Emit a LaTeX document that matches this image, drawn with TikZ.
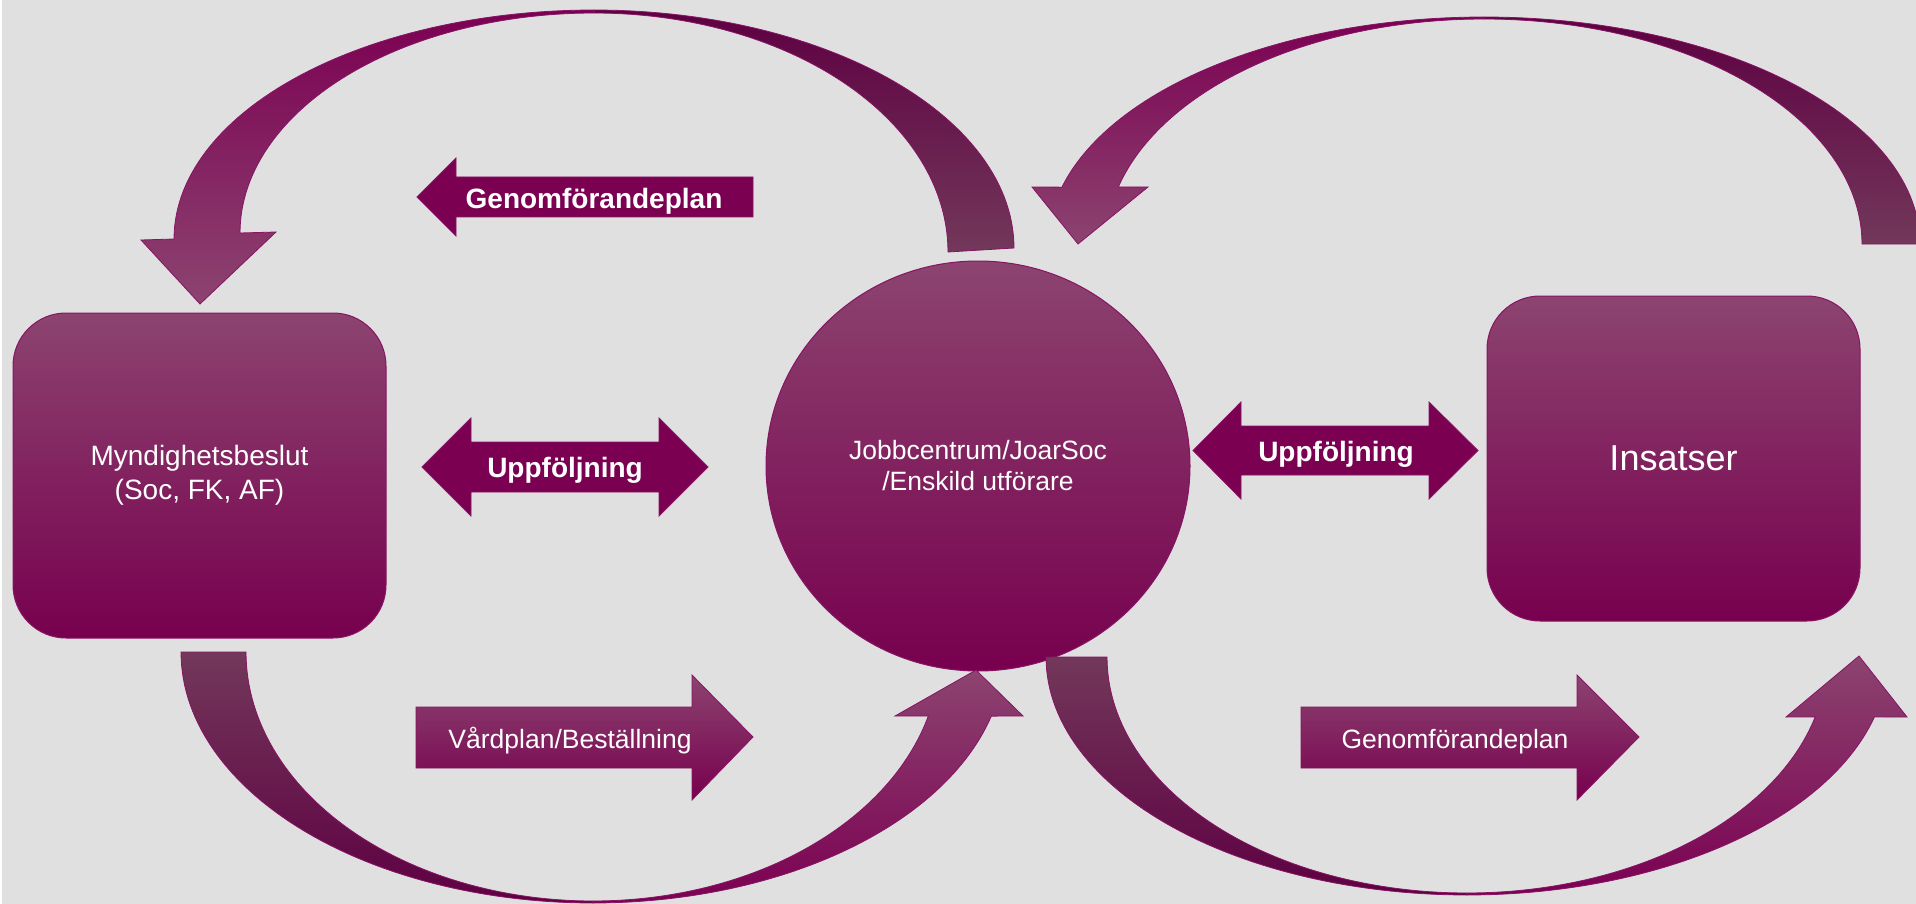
\documentclass[tikz,border=0pt]{standalone}
\usepackage{fontspec}
\setmainfont{Liberation Sans}
\usetikzlibrary{shapes.geometric}
\definecolor{bg}{RGB}{224,224,224}
\definecolor{mag}{RGB}{123,0,82}
\definecolor{magmid}{RGB}{129,10,88}
\definecolor{magbot}{RGB}{119,0,78}
\definecolor{maglight}{RGB}{140,68,112}
\definecolor{darkp}{RGB}{94,0,66}
\definecolor{tailgray}{RGB}{114,56,90}
\definecolor{edge}{RGB}{135,20,100}
\tikzset{
  shapebox/.style={draw=edge, line width=1pt, top color=maglight, middle color=magmid, bottom color=magbot, text=white, align=center, inner sep=0pt},
  roundbox/.style={shapebox, rectangle, rounded corners=53pt, minimum width=373pt, minimum height=325pt},
  tailup/.style={draw=edge, line width=0.8pt, top color=tailgray, bottom color=darkp},
  taildown/.style={draw=edge, line width=0.8pt, top color=darkp, bottom color=tailgray},
  headup/.style={draw=edge, line width=0.8pt, top color=maglight, middle color=mag!80!maglight, bottom color=mag},
  headdown/.style={draw=edge, line width=0.8pt, top color=mag, middle color=mag!80!maglight, bottom color=maglight},
  flatarrow/.style={draw=edge, line width=0.8pt, fill=mag},
  gradarrow/.style={draw=edge, line width=0.8pt, top color=maglight, middle color=mag, bottom color=magbot},
  boldlabel/.style={text=white, anchor=base, inner sep=0pt, font=\fontsize{28}{32}\selectfont\bfseries},
  plainlabel/.style={text=white, anchor=base, inner sep=0pt, font=\fontsize{26.5}{31}\selectfont},
}
\begin{document}
\begin{tikzpicture}[x=1pt,y=-1pt]
\useasboundingbox (0,0) rectangle (1916,904);
\clip (0,0) rectangle (1916,904);
\fill[bg] (0,0) rectangle (1916,904);
\fill[white] (0,0) rectangle (2,904);

% main shapes
\node[roundbox, font=\fontsize{28}{34}\selectfont] (myn) at (199.5,475.5) {Myndighetsbeslut\\(Soc, FK, AF)};
\node[shapebox, ellipse, minimum width=424pt, minimum height=410pt, font=\fontsize{26.5}{31}\selectfont] (job) at (978,466) {Jobbcentrum/JoarSoc\\/Enskild utförare};
\node[roundbox, font=\fontsize{36}{40}\selectfont] (ins) at (1673.5,458.5) {Insatser};

% top-left curved arrow (A)
\path[taildown] plot[domain=-90:0, samples=60] ({594+420*cos(\x)},{248+238*sin(\x)})
  -- plot[domain=0:-90, samples=60] ({594+354*cos(\x)},{252+239*sin(\x)}) -- cycle;
\path[headdown] plot[domain=180:270, samples=60] ({594+420*cos(\x)},{239+229*sin(\x)})
  -- plot[domain=270:180, samples=60] ({594+354*cos(\x)},{233+220*sin(\x)})
  -- (276,232) -- (200,304) -- (141,240) -- cycle;

% top-right curved arrow (B)
\path[taildown] plot[domain=-90:0, samples=60] ({1484+436*cos(\x)},{244+227*sin(\x)})
  -- plot[domain=0:-90, samples=60] ({1484+378*cos(\x)},{244+225*sin(\x)}) -- cycle;
\path[headdown] plot[domain=194.5:270, samples=60] ({1484+436*cos(\x)},{244+227*sin(\x)})
  -- plot[domain=270:194.7, samples=60] ({1484+378*cos(\x)},{244+225*sin(\x)})
  -- (1148,187) -- (1078,244) -- (1032,187) -- cycle;

% bottom-left curved arrow (C)
\path[tailup] plot[domain=180:90, samples=60] ({593+412*cos(\x)},{652+251*sin(\x)})
  -- plot[domain=90:180, samples=60] ({593+347*cos(\x)},{652+249*sin(\x)}) -- cycle;
\path[headup] plot[domain=90:14.8, samples=60] ({593+412*cos(\x)},{652+251*sin(\x)})
  -- (1023,716) -- (976,670) -- (895,716)
  -- plot[domain=14.9:90, samples=60] ({593+347*cos(\x)},{652+249*sin(\x)}) -- cycle;

% bottom-right curved arrow (D)
\path[tailup] plot[domain=180:90, samples=60] ({1467+421*cos(\x)},{657+238*sin(\x)})
  -- plot[domain=90:180, samples=60] ({1467+360*cos(\x)},{657+236*sin(\x)}) -- cycle;
\path[headup] plot[domain=90:14.6, samples=60] ({1467+421*cos(\x)},{657+238*sin(\x)})
  -- (1907,717) -- (1859,656) -- (1786,717)
  -- plot[domain=14.7:90, samples=60] ({1467+360*cos(\x)},{657+236*sin(\x)}) -- cycle;

% straight block arrows
\path[flatarrow] (417,197) -- (456,158) -- (456,177) -- (753,177) -- (753,217) -- (456,217) -- (456,236) -- cycle;
\node[boldlabel] (genTop) at (594,208) {Genomförandeplan};

\path[flatarrow] (422,467) -- (471,418) -- (471,442) -- (659,442) -- (659,418) -- (708,467) -- (659,516) -- (659,492) -- (471,492) -- (471,516) -- cycle;
\node[boldlabel] (uppL) at (565,477) {Uppföljning};

\path[flatarrow] (1193,450.5) -- (1241,402) -- (1241,426) -- (1429,426) -- (1429,402) -- (1478,450.5) -- (1429,499) -- (1429,475) -- (1241,475) -- (1241,499) -- cycle;
\node[boldlabel] (uppR) at (1336,461) {Uppföljning};

\path[gradarrow] (416,707) -- (692,707) -- (692,675) -- (753,737) -- (692,800) -- (692,768) -- (416,768) -- cycle;
\node[plainlabel] (vard) at (570,748) {Vårdplan/Beställning};

\path[gradarrow] (1301,707) -- (1577,707) -- (1577,675) -- (1639,737) -- (1577,800) -- (1577,768) -- (1301,768) -- cycle;
\node[plainlabel] (genBot) at (1455,748) {Genomförandeplan};
\end{tikzpicture}
\end{document}
